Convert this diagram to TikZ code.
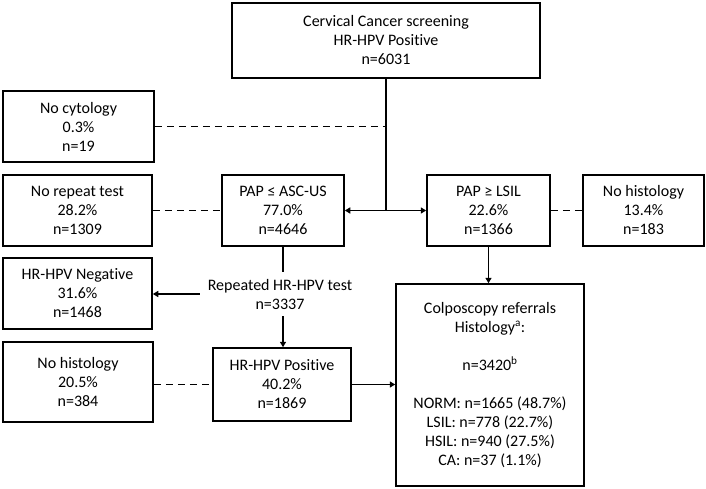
\documentclass[tikz,border=0pt]{standalone}
\usepackage{fontspec}
\setmainfont[Ligatures=NoCommon]{Carlito}
\usetikzlibrary{arrows.meta}
\begin{document}
\begin{tikzpicture}[x=1pt,y=-1pt,
  every node/.style={font=\fontsize{16}{19}\selectfont, align=center, inner sep=0pt},
  box/.style={draw, line width=1.5pt, minimum width=#1},
  conn/.style={line width=1.4pt},
  arr/.style={conn, -{Triangle[length=5.5pt,width=6pt]}},
  dsh/.style={conn, dash pattern=on 7pt off 5pt}]
\useasboundingbox (0,0) rectangle (706,489);
\node[box=308, minimum height=75] (top) at (386,40.5) {Cervical Cancer screening\\HR-HPV Positive\\n=6031};
\node[box=151, minimum height=71] (nocyt) at (78.5,126.5) {No cytology\\0.3\%\\n=19};
\node[box=149, minimum height=71] (norep) at (77.5,210.5) {No repeat test\\28.2\%\\n=1309};
\node[box=122, minimum height=71] (papl) at (283,210.5) {PAP ≤ ASC-US\\77.0\%\\n=4646};
\node[box=123, minimum height=71] (paph) at (488.5,210.5) {PAP ≥ LSIL\\22.6\%\\n=1366};
\node[box=121, minimum height=71] (nohistR) at (643.5,210.5) {No histology\\13.4\%\\n=183};
\node[box=149, minimum height=71] (hrneg) at (77.5,293.5) {HR-HPV Negative\\31.6\%\\n=1468};
\node[inner xsep=8pt, minimum height=44] (rep) at (280,294) {Repeated HR-HPV test\\n=3337};
\node[box=138, minimum height=73] (hrpos) at (282,384.5) {HR-HPV Positive\\40.2\%\\n=1869};
\node[box=150, minimum height=80] (nohistL) at (78,382) {No histology\\20.5\%\\n=384};
\node[box=188, minimum height=202] (colpo) at (490,385) {Colposcopy referrals\\Histology\textsuperscript{a}:\\[19pt]n=3420\textsuperscript{b}\\[19pt]NORM: n=1665 (48.7\%)\\LSIL: n=778 (22.7\%)\\HSIL: n=940 (27.5\%)\\CA: n=37 (1.1\%)};
\coordinate (j) at (top.south |- papl.east);
\coordinate (jc) at (top.south |- nocyt.east);
\draw[conn] (top.south) -- (j);
\draw[arr] (j) -- (papl.east);
\draw[arr] (j) -- (paph.west);
\draw[dsh] (nocyt.east) -- (jc);
\draw[dsh] (norep.east) -- (papl.west);
\draw[dsh] (paph.east) -- (nohistR.west);
\draw[conn] (papl.south) -- (rep.north -| papl.south);
\draw[arr] (rep.south -| papl.south) -- (hrpos.north -| papl.south);
\draw[arr] (rep.west) -- (hrneg.east |- rep.west);
\draw[arr] (paph.south) -- (colpo.north -| paph.south);
\draw[arr] (hrpos.east) -- (colpo.west |- hrpos.east);
\draw[dsh] (nohistL.east |- hrpos.west) -- (hrpos.west);
\end{tikzpicture}
\end{document}
